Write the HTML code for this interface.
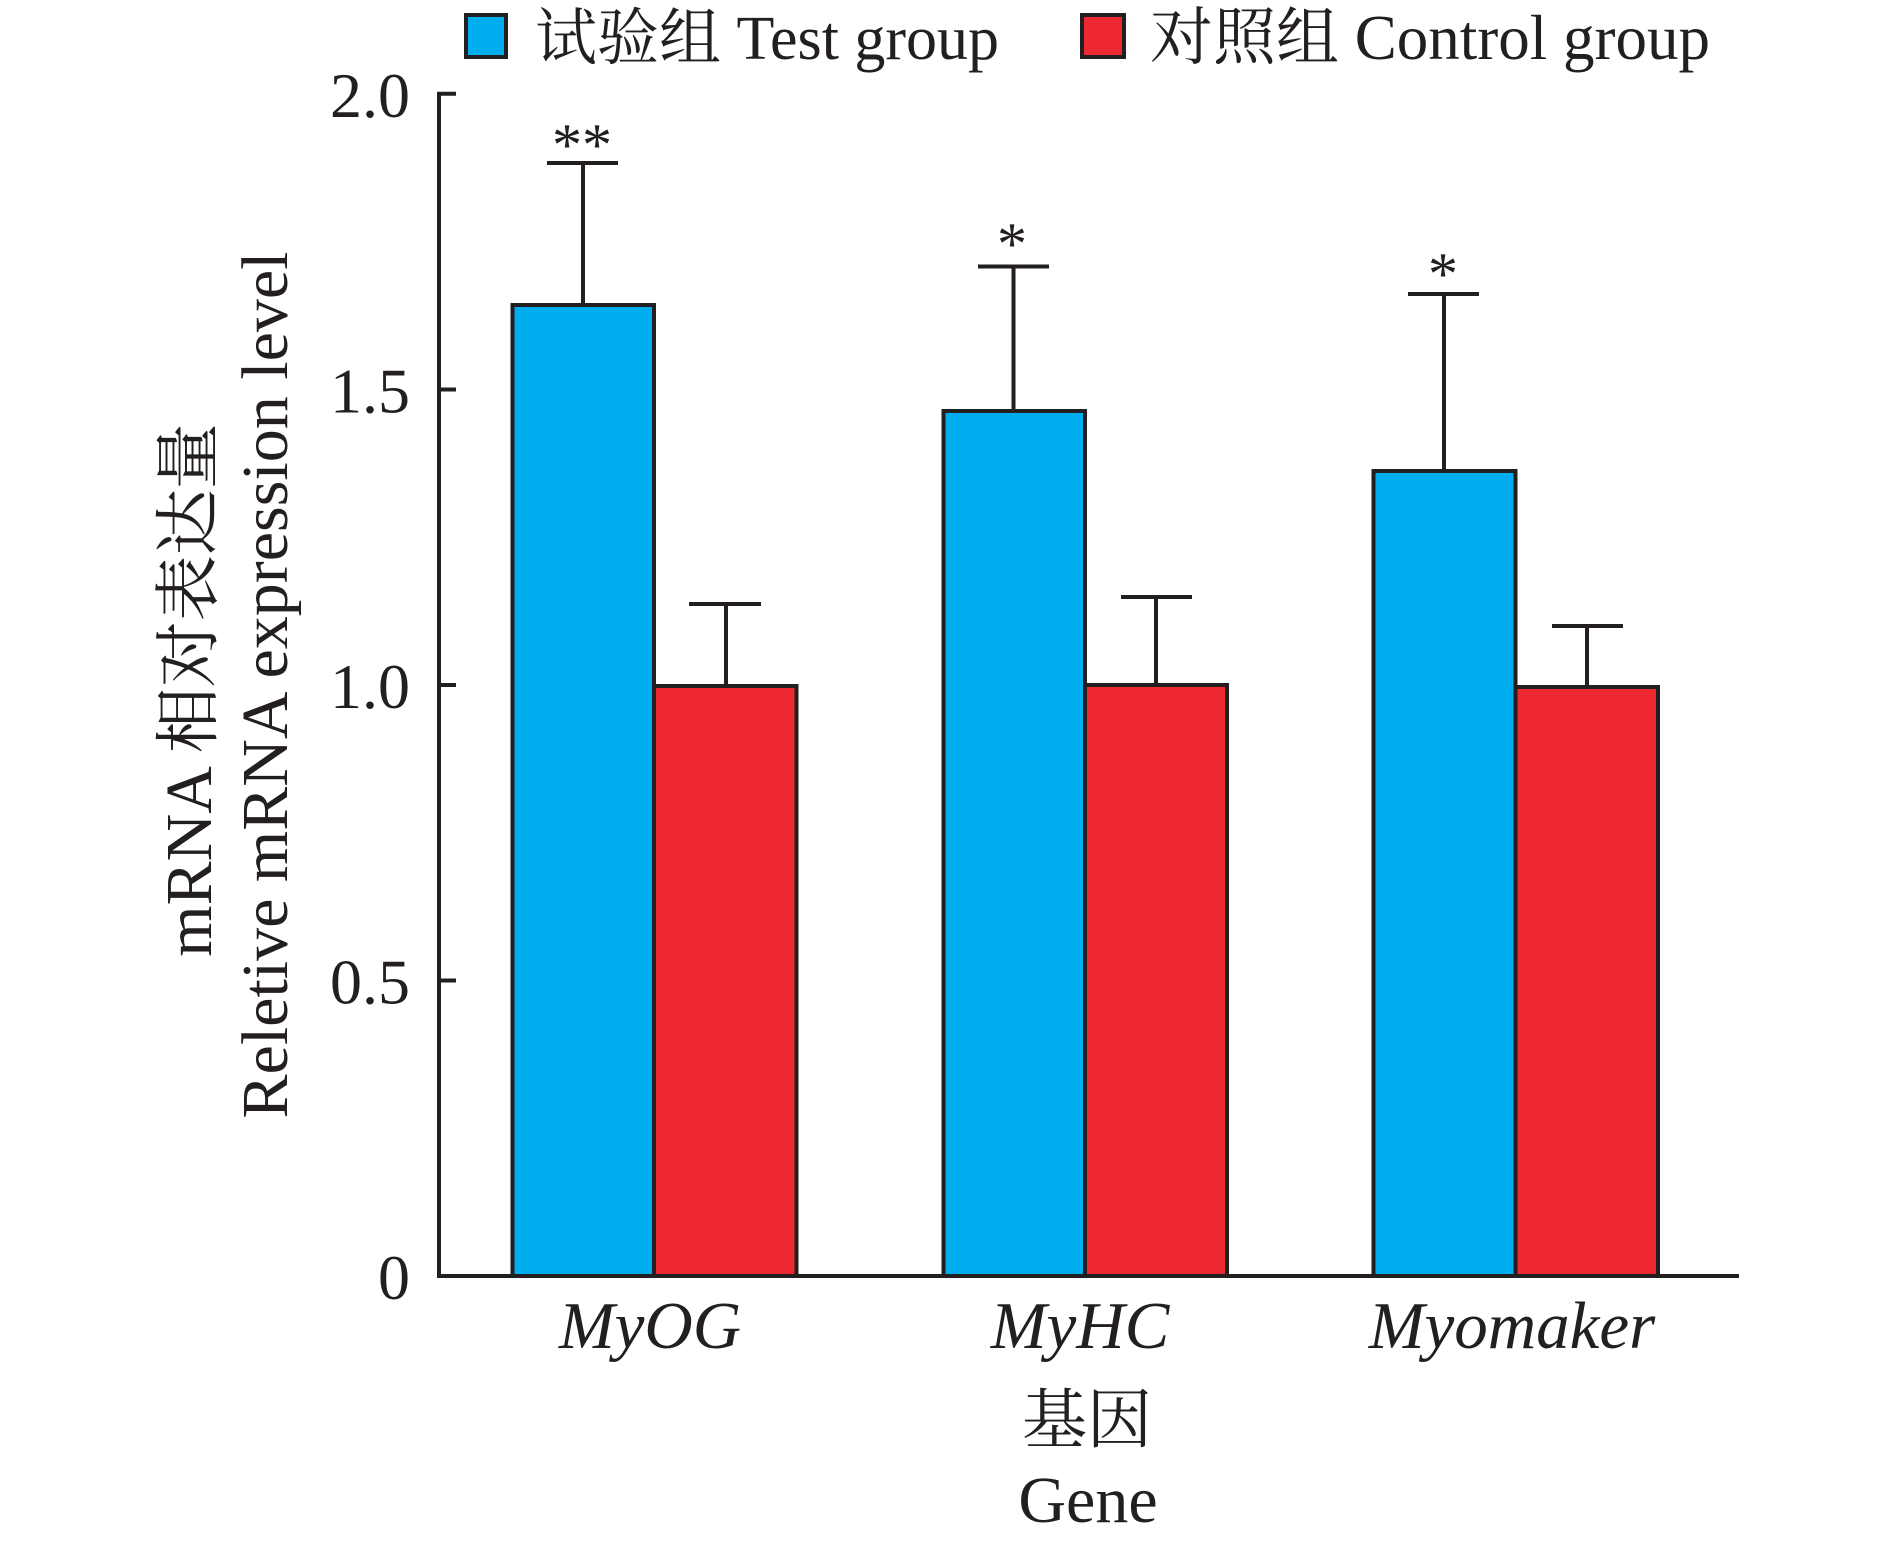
<!DOCTYPE html>
<html>
<head>
<meta charset="utf-8">
<style>
  html, body { margin: 0; padding: 0; background: #ffffff; }
  svg { display: block; }
  text { font-family: "Liberation Serif", "Noto Serif CJK SC", serif; fill: #231f20; }
</style>
</head>
<body>
<svg width="1890" height="1547" viewBox="0 0 1890 1547" xmlns="http://www.w3.org/2000/svg">
  <!-- Legend -->
  <rect x="466" y="15" width="40" height="42" fill="#00aeef" stroke="#231f20" stroke-width="4"/>
  <text x="535" y="59" font-size="62">试验组 Test group</text>
  <rect x="1082" y="15" width="42" height="42" fill="#ed2830" stroke="#231f20" stroke-width="4"/>
  <text x="1150" y="59" font-size="63">对照组 Control group</text>

  <!-- Error bars -->
  <g stroke="#231f20" stroke-width="4" fill="none">
    <line x1="583" y1="163" x2="583" y2="305"/>
    <line x1="547" y1="163" x2="618" y2="163"/>
    <line x1="726" y1="604" x2="726" y2="686"/>
    <line x1="689" y1="604" x2="761" y2="604"/>

    <line x1="1013.5" y1="266.5" x2="1013.5" y2="411"/>
    <line x1="978" y1="266.5" x2="1049" y2="266.5"/>
    <line x1="1156" y1="597" x2="1156" y2="685"/>
    <line x1="1121" y1="597" x2="1192" y2="597"/>

    <line x1="1444" y1="294" x2="1444" y2="471"/>
    <line x1="1408" y1="294" x2="1479" y2="294"/>
    <line x1="1587" y1="626" x2="1587" y2="687"/>
    <line x1="1552" y1="626" x2="1623" y2="626"/>
  </g>

  <!-- Bars -->
  <g stroke="#231f20" stroke-width="4">
    <rect x="512.5" y="305" width="141.5" height="971" fill="#00aeef"/>
    <rect x="654" y="686" width="142.5" height="590" fill="#ed2830"/>
    <rect x="943.5" y="411" width="141.5" height="865" fill="#00aeef"/>
    <rect x="1085" y="685" width="142" height="591" fill="#ed2830"/>
    <rect x="1373.5" y="471" width="142" height="805" fill="#00aeef"/>
    <rect x="1515.5" y="687" width="142.5" height="589" fill="#ed2830"/>
  </g>

  <!-- Axes -->
  <g stroke="#231f20" stroke-width="4" fill="none">
    <line x1="439" y1="92" x2="439" y2="1278"/>
    <line x1="437" y1="1276" x2="1739" y2="1276"/>
    <line x1="437" y1="93.7" x2="456" y2="93.7"/>
    <line x1="437" y1="389.5" x2="456" y2="389.5"/>
    <line x1="437" y1="685" x2="456" y2="685"/>
    <line x1="437" y1="980.5" x2="456" y2="980.5"/>
  </g>

  <!-- Tick labels -->
  <g font-size="64" text-anchor="end">
    <text x="410" y="117">2.0</text>
    <text x="410" y="412.5">1.5</text>
    <text x="410" y="708">1.0</text>
    <text x="410" y="1003.5">0.5</text>
    <text x="410" y="1299">0</text>
  </g>

  <!-- Significance -->
  <g font-size="60" text-anchor="middle">
    <text x="582" y="165">**</text>
    <text x="1012" y="264">*</text>
    <text x="1443" y="294">*</text>
  </g>

  <!-- X labels -->
  <g font-size="67" font-style="italic" text-anchor="middle">
    <text x="650" y="1348">MyOG</text>
    <text x="1080" y="1348">MyHC</text>
    <text x="1512" y="1348">Myomaker</text>
  </g>
  <text x="1087" y="1442" font-size="65" text-anchor="middle">基因</text>
  <text x="1088" y="1522" font-size="66" text-anchor="middle">Gene</text>

  <!-- Y title -->
  <text transform="translate(211,690) rotate(-90)" font-size="66" text-anchor="middle">mRNA 相对表达量</text>
  <text transform="translate(287,685) rotate(-90)" font-size="66" text-anchor="middle">Reletive mRNA expression level</text>
</svg>
</body>
</html>
